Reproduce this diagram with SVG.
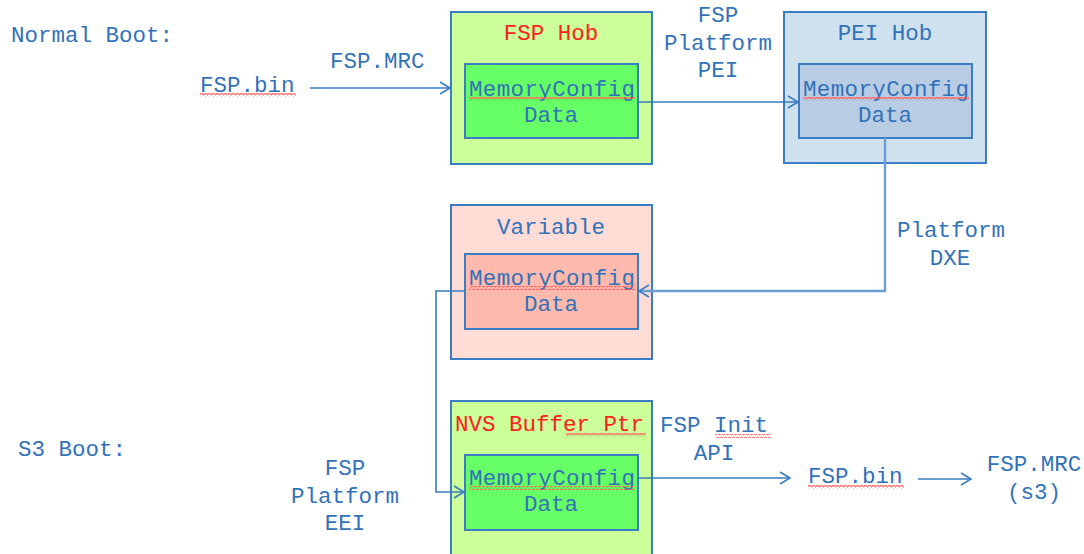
<svg xmlns="http://www.w3.org/2000/svg" width="1084" height="554" viewBox="0 0 1084 554">
<style>
text{font-family:"Liberation Mono","Courier New",monospace;font-size:22.5px;fill:#3272b8}
.c{text-anchor:middle}
.red{fill:#ff2020}
.outer{stroke:#3b7dc2;stroke-width:2}
.inner{stroke:#3b7dc2;stroke-width:2}
.ln{fill:none;stroke:#3a7cc0;stroke-width:1.6}
.wv{fill:url(#wave)}
</style>
<defs>
<marker id="ah" markerWidth="14" markerHeight="14" refX="12" refY="7" orient="auto" markerUnits="userSpaceOnUse">
<path d="M2,1 L12,7 L2,13" fill="none" stroke="#3a7cc0" stroke-width="1.6"/>
</marker>
<pattern id="wave" width="4" height="4" patternUnits="userSpaceOnUse">
<path d="M0,3 L1,1 L2,1 L3,3 L4,3" fill="none" stroke="#ff4a4a" stroke-width="0.9"/>
</pattern>
</defs>
<rect width="1084" height="554" fill="#ffffff"/>

<text x="11" y="42">Normal Boot:</text>
<text x="18" y="456">S3 Boot:</text>

<g id="fsp-hob">
<rect class="outer" x="451" y="12" width="201" height="152" fill="#ccff99"/>
<text class="c red" x="551" y="40">FSP Hob</text>
<rect class="inner" x="465" y="64" width="173" height="74" fill="#66ff66"/>
<text class="c" x="552" y="96" textLength="166">MemoryConfig</text>
<rect class="wv" x="469" y="97" width="166" height="4"/>
<text class="c" x="551" y="122">Data</text>
</g>

<g id="pei-hob">
<rect class="outer" x="784" y="12" width="202" height="151" fill="#cfe0ee"/>
<text class="c" x="885" y="40">PEI Hob</text>
<rect class="inner" x="799" y="64" width="173" height="74" fill="#b8cce4"/>
<text class="c" x="886" y="96" textLength="166">MemoryConfig</text>
<rect class="wv" x="803" y="97" width="166" height="4"/>
<text class="c" x="885" y="122">Data</text>
</g>

<g id="variable">
<rect class="outer" x="451" y="205" width="201" height="154" fill="#ffdcd6"/>
<text class="c" x="551" y="234">Variable</text>
<rect class="inner" x="465" y="254" width="173" height="75" fill="#ffb9ad"/>
<text class="c" x="552" y="285" textLength="166">MemoryConfig</text>
<rect class="wv" x="469" y="286" width="166" height="4"/>
<text class="c" x="551" y="311">Data</text>
</g>

<g id="nvs-buffer">
<rect class="outer" x="451" y="401" width="201" height="160" fill="#ccff99"/>
<text class="red" x="455" y="431">NVS Buffer Ptr</text>
<rect class="wv" x="566" y="433" width="80" height="4"/>
<rect class="inner" x="465" y="455" width="173" height="75" fill="#66ff66"/>
<text class="c" x="552" y="485" textLength="166">MemoryConfig</text>
<rect class="wv" x="469" y="486" width="166" height="4"/>
<text class="c" x="551" y="511">Data</text>
</g>

<g id="labels">
<text x="200" y="92">FSP.bin</text>
<rect class="wv" x="200" y="93" width="96" height="4"/>
<text x="330" y="68">FSP.MRC</text>
<text class="c" x="718" y="22">FSP</text>
<text class="c" x="718" y="50">Platform</text>
<text class="c" x="718" y="77">PEI</text>
<text class="c" x="951" y="237">Platform</text>
<text class="c" x="950" y="265">DXE</text>
<text class="c" x="345" y="475">FSP</text>
<text class="c" x="345" y="503">Platform</text>
<text class="c" x="345" y="530">EEI</text>
<text class="c" x="714" y="432">FSP Init</text>
<rect class="wv" x="715" y="434" width="56" height="4"/>
<text class="c" x="714" y="460">API</text>
<text x="808" y="483">FSP.bin</text>
<rect class="wv" x="808" y="485" width="96" height="4"/>
<text class="c" x="1034" y="471">FSP.MRC</text>
<text class="c" x="1034" y="499">(s3)</text>
</g>

<g id="connectors">
<path class="ln" d="M310,88 L450,88" marker-end="url(#ah)"/>
<path class="ln" d="M638,102 L798,102" marker-end="url(#ah)"/>
<path class="ln" d="M885,138 L885,291 L639,291" marker-end="url(#ah)" style="stroke:#6a9fd4;stroke-width:2.4"/>
<path class="ln" d="M465,291 L436,291 L436,492 L464,492" marker-end="url(#ah)"/>
<path class="ln" d="M638,478 L790,478" marker-end="url(#ah)"/>
<path class="ln" d="M918,479 L971,479" marker-end="url(#ah)"/>
</g>
</svg>
